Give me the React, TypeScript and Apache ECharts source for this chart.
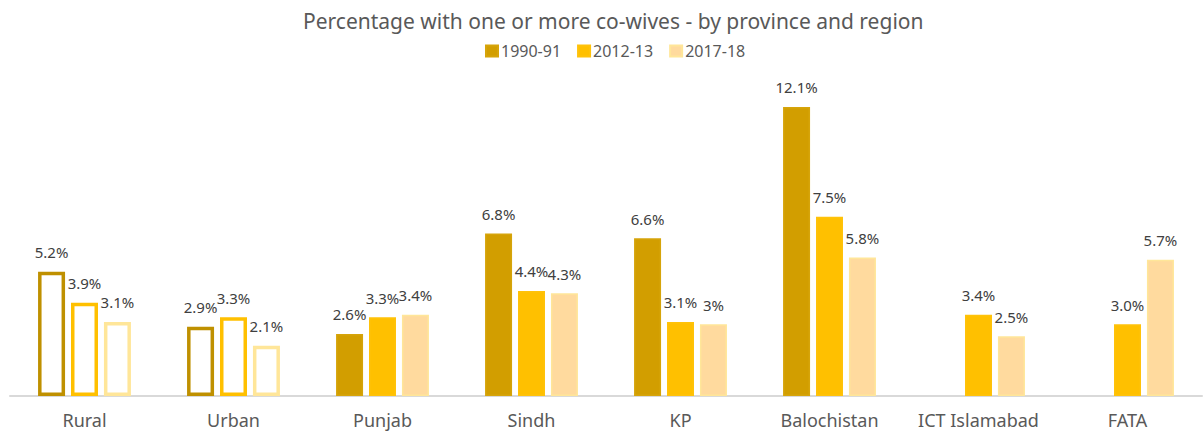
import React, { useEffect, useRef } from "react";
import * as echarts from "echarts";

const categories = ["Rural", "Urban", "Punjab", "Sindh", "KP", "Balochistan", "ICT Islamabad", "FATA"];
const seriesNames = ["1990-91", "2012-13", "2017-18"];
const values1990 = [5.2, 2.9, 2.6, 6.8, 6.6, 12.1, null, null];
const values2012 = [3.9, 3.3, 3.3, 4.4, 3.1, 7.5, 3.4, 3.0];
const values2017 = [3.1, 2.1, 3.4, 4.3, 3.0, 5.8, 2.5, 5.7];
const labels1990 = ["5.2%", "2.9%", "2.6%", "6.8%", "6.6%", "12.1%", "", ""];
const labels2012 = ["3.9%", "3.3%", "3.3%", "4.4%", "3.1%", "7.5%", "3.4%", "3.0%"];
const labels2017 = ["3.1%", "2.1%", "3.4%", "4.3%", "3%", "5.8%", "2.5%", "5.7%"];
const hollowCategories = ["Rural", "Urban"];

const fills = ["#D29E00", "#FFC000", "#FFDA9E"];
const borders = ["#D6A40A", "#FFC20A", "#FFE699"];
const hollowBorders = ["#BF9000", "#FFC000", "#FFE699"];

const FONT = "Noto Sans";

export default function App() {
  const ref = useRef<HTMLDivElement>(null);
  useEffect(() => {
    if (!ref.current) return;
    document.body.style.margin = "0";
    const chart = echarts.init(ref.current, null, { renderer: "svg" });
    const all = [values1990, values2012, values2017];
    const labs = [labels1990, labels2012, labels2017];
    const series = all.map((vals, si) => ({
      name: seriesNames[si],
      type: "bar",
      barWidth: 27,
      barGap: "22%",
      itemStyle: { color: fills[si], borderColor: borders[si], borderWidth: 1.5 },
      label: {
        show: true,
        position: "top",
        distance: 12,
        color: "#404040",
        fontFamily: FONT,
        fontSize: 15,
        formatter: (p: any) => labs[si][p.dataIndex],
      },
      data: vals.map((v, i) =>
        hollowCategories.includes(categories[i])
          ? { value: v, itemStyle: { color: "#FFFFFF", borderColor: hollowBorders[si], borderWidth: 3.5 } }
          : { value: v }
      ),
    }));
    chart.setOption({
      animation: false,
      title: {
        text: "Percentage with one or more co-wives - by province and region",
        left: 298,
        top: 5,
        textStyle: { fontFamily: FONT, fontSize: 21, fontWeight: "normal", color: "#595959" },
      },
      legend: {
        data: seriesNames,
        top: 38,
        left: 480,
        itemWidth: 12,
        itemHeight: 11,
        itemGap: 16,
        icon: "rect",
        textStyle: { fontFamily: FONT, fontSize: 16, color: "#595959", padding: [0, 0, 0, -2] },
      },
      grid: { left: 10, right: 1, top: 61.6, bottom: 40, containLabel: false },
      xAxis: {
        type: "category",
        data: categories,
        axisLine: { lineStyle: { color: "#D9D9D9", width: 2 } },
        axisTick: { show: false },
        axisLabel: { interval: 0, hideOverlap: false, fontFamily: FONT, fontSize: 18, color: "#595959", margin: 15 },
      },
      yAxis: {
        type: "value",
        min: 0,
        max: 14,
        show: false,
        splitLine: { show: false },
      },
      series,
    });
    return () => chart.dispose();
  }, []);
  return <div ref={ref} style={{ width: 1203, height: 436 }} />;
}
